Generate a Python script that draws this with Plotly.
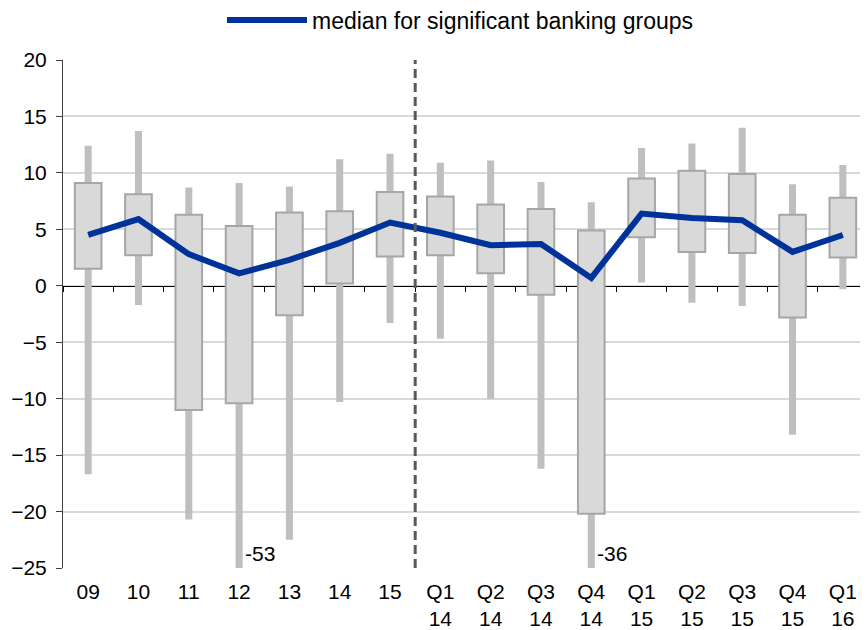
import plotly.graph_objects as go

categories = ["09", "10", "11", "12", "13", "14", "15",
              "Q1 14", "Q2 14", "Q3 14", "Q4 14",
              "Q1 15", "Q2 15", "Q3 15", "Q4 15", "Q1 16"]
tick_labels = ["09", "10", "11", "12", "13", "14", "15",
               "Q1<br>14", "Q2<br>14", "Q3<br>14", "Q4<br>14",
               "Q1<br>15", "Q2<br>15", "Q3<br>15", "Q4<br>15", "Q1<br>16"]

whisker_high = [12.4, 13.7, 8.7, 9.1, 8.8, 11.2, 11.7,
                10.9, 11.1, 9.2, 7.4, 12.2, 12.6, 14.0, 9.0, 10.7]
box_high = [9.1, 8.1, 6.3, 5.3, 6.5, 6.6, 8.3,
            7.9, 7.2, 6.8, 4.9, 9.5, 10.2, 9.9, 6.3, 7.8]
box_low = [1.5, 2.7, -11.0, -10.4, -2.6, 0.2, 2.6,
           2.7, 1.1, -0.8, -20.2, 4.3, 3.0, 2.9, -2.8, 2.5]
whisker_low = [-16.7, -1.7, -20.7, -53.0, -22.5, -10.3, -3.3,
               -4.7, -10.0, -16.2, -36.0, 0.3, -1.5, -1.8, -13.2, -0.3]
median = [4.5, 5.9, 2.8, 1.1, 2.3, 3.8, 5.6,
          4.7, 3.6, 3.7, 0.7, 6.4, 6.0, 5.8, 3.0, 4.5]

out_of_range_labels = {"12": "-53", "Q4 14": "-36"}

FONT = "Liberation Sans, Arial, sans-serif"

# the page body has an 8px default margin, so the figure is sized to fit
W, H = 860, 622

fig = go.Figure()

fig.add_trace(go.Bar(
    x=categories,
    y=[h - l for h, l in zip(whisker_high, whisker_low)],
    base=whisker_low,
    width=0.14,
    marker=dict(color="#bfbfbf", line=dict(width=0)),
    showlegend=False, hoverinfo="skip",
))
fig.add_trace(go.Bar(
    x=categories,
    y=[h - l for h, l in zip(box_high, box_low)],
    base=box_low,
    width=0.53,
    marker=dict(color="#d9d9d9", line=dict(color="#a6a6a6", width=2)),
    showlegend=False, hoverinfo="skip",
))
fig.add_trace(go.Scatter(
    x=categories, y=median,
    mode="lines",
    line=dict(color="#003399", width=6),
    name="median for significant banking groups",
    hoverinfo="skip",
))
# dummy trace for label axis
fig.add_trace(go.Scatter(
    x=categories, y=median, xaxis="x2", mode="markers",
    marker=dict(opacity=0), showlegend=False, hoverinfo="skip",
))

for cat, txt in out_of_range_labels.items():
    fig.add_annotation(
        x=categories.index(cat), y=-23.7, text=txt, showarrow=False,
        xanchor="left", yanchor="middle", xshift=4,
        font=dict(family=FONT, size=21, color="#000000"),
    )

fig.add_shape(
    type="line", xref="x", yref="paper",
    x0=6.5, x1=6.5, y0=0, y1=1,
    line=dict(color="#595959", width=3, dash="9px,5px"),
)

fig.update_layout(
    width=W, height=H,
    margin=dict(l=55, r=0, t=52, b=62, autoexpand=False),
    paper_bgcolor="white", plot_bgcolor="white",
    barmode="overlay",
    font=dict(family=FONT, size=21, color="#000000"),
    showlegend=True,
    legend=dict(
        orientation="h", x=452.5 / W, xanchor="center", xref="container",
        y=1 - 12 / H, yanchor="middle", yref="container",
        font=dict(family=FONT, size=23, color="#000000"),
        itemwidth=80,
        bgcolor="rgba(0,0,0,0)",
    ),
    xaxis=dict(
        type="category",
        categoryorder="array", categoryarray=categories,
        range=[-0.5, 15.5],
        anchor="free", position=25 / 45,
        showline=True, linecolor="#000000", linewidth=1,
        tickson="boundaries", ticks="outside", ticklen=5,
        tickcolor="#000000", tickwidth=1,
        showticklabels=False, showgrid=False, zeroline=False,
        layer="below traces", automargin=False,
    ),
    xaxis2=dict(
        type="category", overlaying="x", anchor="y", side="bottom",
        categoryorder="array", categoryarray=categories,
        range=[-0.5, 15.5],
        tickmode="array", tickvals=categories, ticktext=tick_labels,
        showline=False, ticks="", showgrid=False, zeroline=False,
        ticklabelstandoff=9,
        tickfont=dict(family=FONT, size=21, color="#000000"),
        automargin=False,
    ),
    yaxis=dict(
        range=[-25, 20], tickmode="array",
        tickvals=[-25, -20, -15, -10, -5, 0, 5, 10, 15, 20],
        showline=True, linecolor="#404040", linewidth=1,
        ticks="outside", ticklen=6, tickcolor="#404040",
        ticklabelstandoff=5,
        showgrid=True, gridcolor="#d9d9d9", gridwidth=1.5,
        zeroline=False, automargin=False,
        tickfont=dict(family=FONT, size=21, color="#000000"),
    ),
)

fig.write_html("out.html")
